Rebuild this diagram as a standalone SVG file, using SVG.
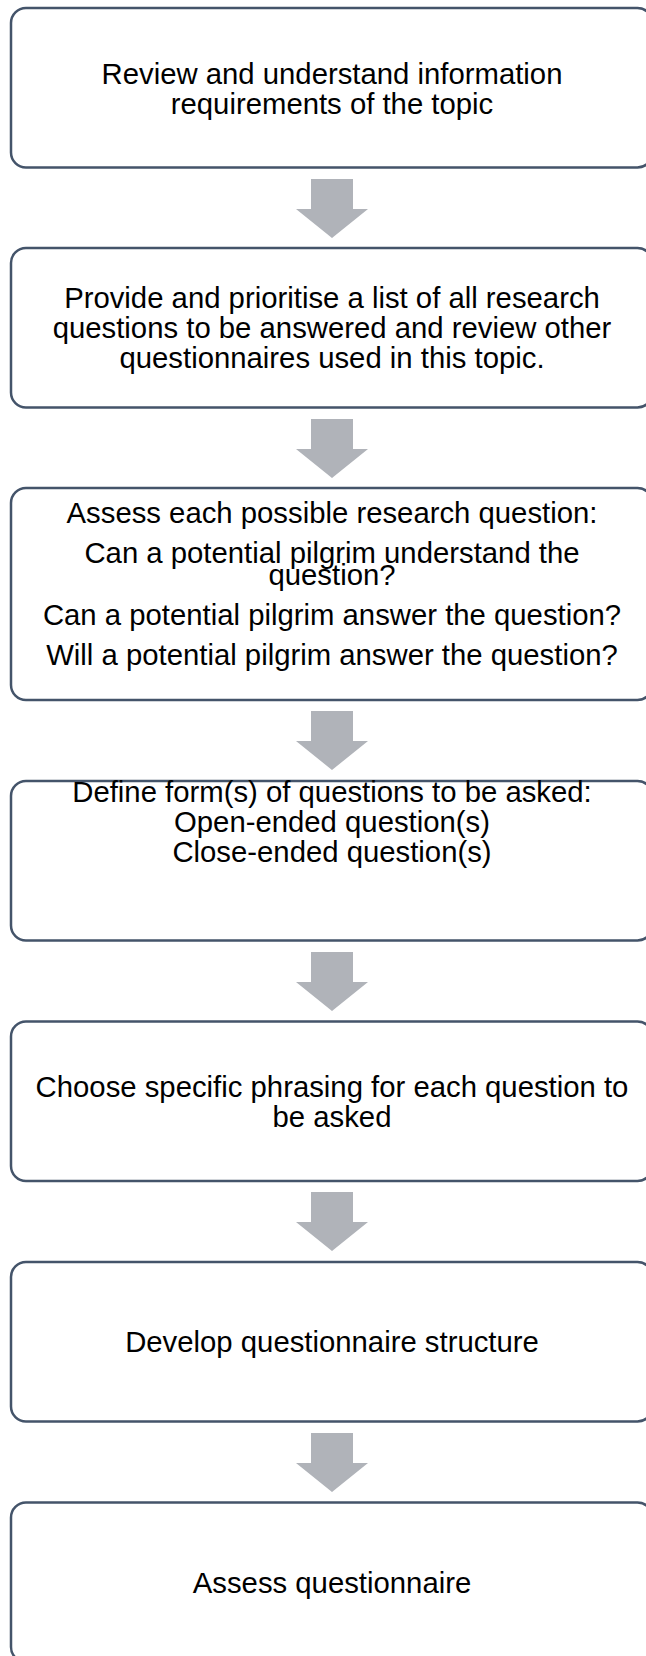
<svg xmlns="http://www.w3.org/2000/svg" width="646" height="1656" viewBox="0 0 646 1656">
  <defs>
    <style>
      .box { fill: #ffffff; stroke: #44546a; stroke-width: 2.5; }
      .arrow { fill: #b0b3b9; }
      .lbl { font-family: "Liberation Sans", Arial, sans-serif; font-size: 29.3px; fill: #000000; text-anchor: middle; }
    </style>
    <!-- down arrow, origin at top centre of the shaft -->
    <path id="down" d="M -21 0 H 21 V 30 H 36 L 0 59 L -36 30 H -21 Z"/>
  </defs>
  <rect width="646" height="1656" fill="#ffffff"/>

  <g id="connectors">
    <use href="#down" class="arrow" x="332" y="179"/>
    <use href="#down" class="arrow" x="332" y="419"/>
    <use href="#down" class="arrow" x="332" y="711"/>
    <use href="#down" class="arrow" x="332" y="952"/>
    <use href="#down" class="arrow" x="332" y="1192"/>
    <use href="#down" class="arrow" x="332" y="1433"/>
  </g>

  <g id="step1">
    <rect class="box" x="11" y="8" width="641.5" height="159.5" rx="15"/>
    <text class="lbl"><tspan x="332" y="83.5">Review and understand information</tspan><tspan x="332" y="113.5">requirements of the topic</tspan></text>
  </g>

  <g id="step2">
    <rect class="box" x="11" y="248" width="641.5" height="159.5" rx="15"/>
    <text class="lbl"><tspan x="332" y="307.5">Provide and prioritise a list of all research</tspan><tspan x="332" y="337.5">questions to be answered and review other</tspan><tspan x="332" y="367.5">questionnaires used in this topic.</tspan></text>
  </g>

  <g id="step3">
    <rect class="box" x="11" y="488" width="641.5" height="212" rx="15"/>
    <text class="lbl"><tspan x="332" y="523">Assess each possible research question:</tspan><tspan x="332" y="563">Can a potential pilgrim understand the</tspan><tspan x="332" y="585">question?</tspan><tspan x="332" y="625">Can a potential pilgrim answer the question?</tspan><tspan x="332" y="665">Will a potential pilgrim answer the question?</tspan></text>
  </g>

  <g id="step4">
    <rect class="box" x="11" y="781" width="641.5" height="159.5" rx="15"/>
    <text class="lbl"><tspan x="332" y="802">Define form(s) of questions to be asked:</tspan><tspan x="332" y="832">Open-ended question(s)</tspan><tspan x="332" y="862">Close-ended question(s)</tspan></text>
  </g>

  <g id="step5">
    <rect class="box" x="11" y="1021.5" width="641.5" height="159.5" rx="15"/>
    <text class="lbl"><tspan x="332" y="1096.5">Choose specific phrasing for each question to</tspan><tspan x="332" y="1126.5">be asked</tspan></text>
  </g>

  <g id="step6">
    <rect class="box" x="11" y="1262" width="641.5" height="159.5" rx="15"/>
    <text class="lbl"><tspan x="332" y="1352">Develop questionnaire structure</tspan></text>
  </g>

  <g id="step7">
    <rect class="box" x="11" y="1502.5" width="641.5" height="159.5" rx="15"/>
    <text class="lbl"><tspan x="332" y="1593">Assess questionnaire</tspan></text>
  </g>
</svg>
